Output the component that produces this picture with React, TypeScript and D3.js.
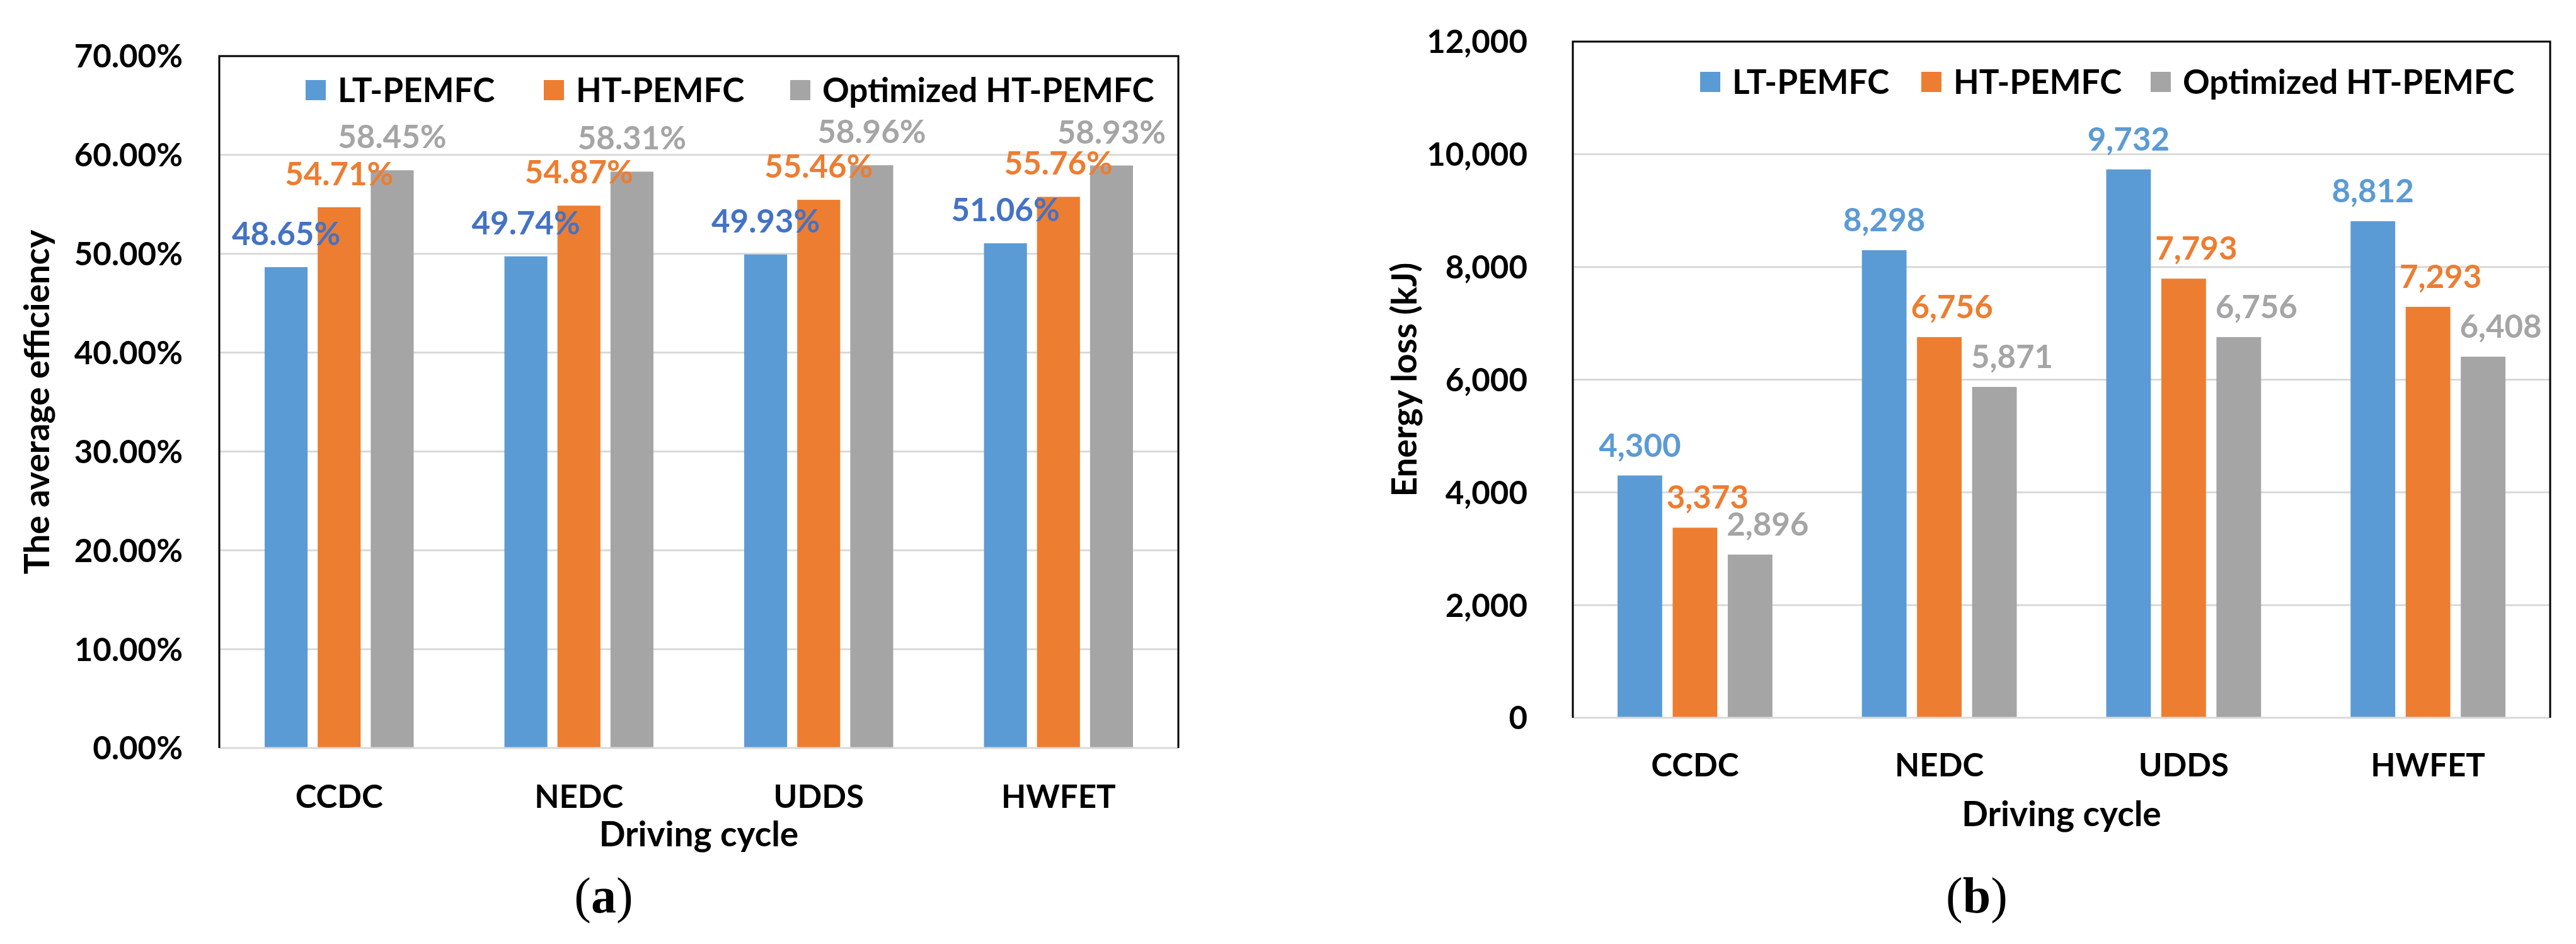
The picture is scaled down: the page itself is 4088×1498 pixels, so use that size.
import React from "react";
import * as d3 from "d3";

const categories = ["CCDC", "NEDC", "UDDS", "HWFET"];
const seriesNames = ["LT-PEMFC", "HT-PEMFC", "Optimized HT-PEMFC"];

const efficiencyLT = [48.65, 49.74, 49.93, 51.06];
const efficiencyHT = [54.71, 54.87, 55.46, 55.76];
const efficiencyOpt = [58.45, 58.31, 58.96, 58.93];

const lossLT = [4300, 8298, 9732, 8812];
const lossHT = [3373, 6756, 7793, 7293];
const lossOpt = [2896, 5871, 6756, 6408];

const efficiencyTicks = [0, 10, 20, 30, 40, 50, 60, 70];
const lossTicks = [0, 2000, 4000, 6000, 8000, 10000, 12000];

const barColors = ["#5B9BD5", "#ED7D31", "#A5A5A5"];

const FONT = "Lato, 'Open Sans', sans-serif";
const FS = 51;
const FS_LEGEND = 53;
const FS_TITLE = 55;

type PanelProps = {
  left: number;
  right: number;
  top: number;
  zero: number;
  yMax: number;
  ticks: number[];
  fmt: (v: number) => string;
  labelFmt: (v: number) => string;
  series: number[][];
  yTitle: string;
  yTitleX: number;
  tickRight: number;
  groupOuter: number;
  labelColors: string[];
  labelDx: number[];
  labelGap: number;
  legendX: number[];
  legendY: number;
  xTitleBaseline: number;
  catBaseline: number;
};

function Panel(p: PanelProps) {
  const x0 = d3.scaleBand<string>().domain(categories).range([p.left, p.right]).padding(0);
  const x1 = d3
    .scaleBand<string>()
    .domain(seriesNames)
    .range([p.groupOuter, x0.bandwidth() - p.groupOuter])
    .paddingInner(0.19)
    .paddingOuter(0);
  const y = d3.scaleLinear().domain([0, p.yMax]).range([p.zero, p.top]);
  const cap = FS * 0.36;
  const sq = 32;
  return (
    <g>
      {p.ticks.map((t) => (
        <g key={t}>
          {t > 0 && t < p.yMax && (
            <line x1={p.left} x2={p.right} y1={y(t)} y2={y(t)} stroke="#D9D9D9" strokeWidth={3} />
          )}
          <text
            x={p.tickRight}
            y={y(t) + cap}
            textAnchor="end"
            fontFamily={FONT}
            fontWeight={700}
            fontSize={FS}
            fill="#000"
          >
            {p.fmt(t)}
          </text>
        </g>
      ))}
      {categories.map((c, ci) => (
        <g key={c} transform={`translate(${x0(c)},0)`}>
          {seriesNames.map((s, si) => {
            const v = p.series[si][ci];
            const bx = x1(s)!;
            const bw = x1.bandwidth();
            return <rect key={s} x={bx} y={y(v)} width={bw} height={p.zero - y(v)} fill={barColors[si]} />;
          })}
          <text
            x={x0.bandwidth() / 2}
            y={p.catBaseline}
            textAnchor="middle"
            fontFamily={FONT}
            fontWeight={700}
            fontSize={FS}
            fill="#000"
          >
            {c}
          </text>
        </g>
      ))}
      <line x1={p.left} x2={p.right} y1={p.zero} y2={p.zero} stroke="#D9D9D9" strokeWidth={3} />
      <path
        d={`M${p.left},${p.zero} V${p.top} H${p.right} V${p.zero}`}
        fill="none"
        stroke="#000"
        strokeWidth={3}
      />
      {categories.map((c, ci) =>
        seriesNames.map((s, si) => {
          const v = p.series[si][ci];
          const cx = x0(c)! + x1(s)! + x1.bandwidth() / 2 + p.labelDx[si];
          return (
            <text
              key={c + s}
              x={cx}
              y={y(v) - p.labelGap}
              textAnchor="middle"
              fontFamily={FONT}
              fontWeight={700}
              fontSize={FS}
              fill={p.labelColors[si]}
            >
              {p.labelFmt(v)}
            </text>
          );
        })
      )}
      {seriesNames.map((s, si) => (
        <g key={s}>
          <rect x={p.legendX[si]} y={p.legendY - sq / 2} width={sq} height={sq} fill={barColors[si]} />
          <text
            x={p.legendX[si] + sq + 19}
            y={p.legendY + FS_LEGEND * 0.36}
            fontFamily={FONT}
            fontWeight={700}
            fontSize={FS_LEGEND}
            fill="#000"
          >
            {s}
          </text>
        </g>
      ))}
      <text
        x={(p.left + p.right) / 2}
        y={p.xTitleBaseline}
        textAnchor="middle"
        fontFamily={FONT}
        fontWeight={700}
        fontSize={FS_TITLE}
        fill="#000"
      >
        Driving cycle
      </text>
      <text
        transform={`translate(${p.yTitleX},${(p.top + p.zero) / 2}) rotate(-90)`}
        textAnchor="middle"
        fontFamily={FONT}
        fontWeight={700}
        fontSize={FS_TITLE}
        fill="#000"
      >
        {p.yTitle}
      </text>
    </g>
  );
}

export default function App() {
  const pct = (v: number) => d3.format(".2f")(v) + "%";
  const comma = d3.format(",");
  return (
    <svg
      width={4088}
      height={1498}
      style={{ position: "absolute", left: 0, top: 0, background: "#fff" }}
    >
      <rect x={0} y={0} width={4088} height={1498} fill="#fff" />
      <Panel
        left={348}
        right={1870}
        top={89}
        zero={1187}
        yMax={70}
        ticks={efficiencyTicks}
        fmt={pct}
        labelFmt={pct}
        series={[efficiencyLT, efficiencyHT, efficiencyOpt]}
        yTitle="The average efficiency"
        yTitleX={78}
        tickRight={290}
        groupOuter={72}
        labelColors={["#4472C4", "#ED7D31", "#A5A5A5"]}
        labelDx={[0, 0, 0]}
        labelGap={35}
        legendX={[485, 863, 1254]}
        legendY={143}
        xTitleBaseline={1343}
        catBaseline={1282}
      />
      <Panel
        left={2496}
        right={4047}
        top={66}
        zero={1139}
        yMax={12000}
        ticks={lossTicks}
        fmt={comma}
        labelFmt={comma}
        series={[lossLT, lossHT, lossOpt]}
        yTitle="Energy loss (kJ)"
        yTitleX={2248}
        tickRight={2424}
        groupOuter={71}
        labelColors={["#5B9BD5", "#ED7D31", "#A5A5A5"]}
        labelDx={[0, 20, 28]}
        labelGap={30}
        legendX={[2698, 3049, 3413]}
        legendY={130}
        xTitleBaseline={1311}
        catBaseline={1232}
      />
      <text x={958} y={1448} textAnchor="middle" fontFamily="'Liberation Serif', serif" fontSize={80} fill="#000">
        (<tspan fontWeight={700}>a</tspan>)
      </text>
      <text x={3137} y={1448} textAnchor="middle" fontFamily="'Liberation Serif', serif" fontSize={80} fill="#000">
        (<tspan fontWeight={700}>b</tspan>)
      </text>
    </svg>
  );
}
